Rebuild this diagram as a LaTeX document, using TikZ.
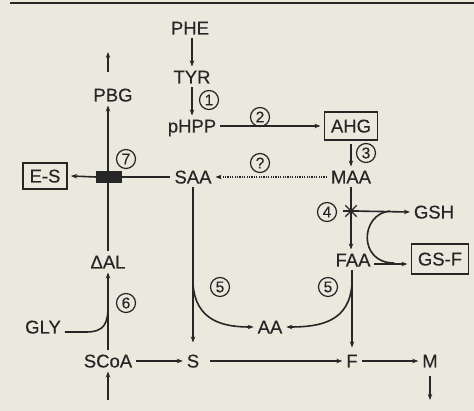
\documentclass[tikz,border=0pt]{standalone}
\usepackage{fontspec}
\setmainfont{Liberation Sans}[FakeBold=0.4]
\usetikzlibrary{arrows.meta}
\definecolor{bg}{RGB}{235,233,222}
\definecolor{ink}{RGB}{38,38,38}
\begin{document}
\begin{tikzpicture}[x=1pt,y=-1pt,
  lbl/.style={inner sep=0pt, outer sep=4pt, text height=13pt, text depth=0pt, font=\fontsize{18.5}{20}\selectfont, text=ink},
  boxed/.style={lbl, draw=ink, line width=1.4pt, inner xsep=6.5pt, minimum height=28pt},
  num/.style={circle, draw=ink, line width=1.2pt, minimum size=19pt, inner sep=0pt, font=\fontsize{15.5}{15.5}\selectfont, text=ink},
  ln/.style={line width=1.6pt, draw=ink},
  arr/.style={ln, -{Stealth[length=6pt,width=4.5pt]}},
  dotarr/.style={arr, line width=1.4pt, dash pattern=on 1.2pt off 1.2pt}]
\fill[bg] (0,0) rectangle (474,411);
\useasboundingbox (0,0) rectangle (474,411);
\draw[ink, line width=1.8pt] (10,3) -- (474,3);
% nodes
\node[lbl] (PHE) at (190,28) {PHE};
\node[lbl] (TYR) at (192,77) {TYR};
\node[lbl] (pHPP) at (192,126) {pHPP};
\node[boxed] (AHG) at (351,126) {AHG};
\node[lbl] (MAA) at (351,177) {MAA};
\node[lbl] (SAA) at (193,177) {SAA};
\node[lbl] (PBG) at (113,95) {PBG};
\node[boxed, minimum height=26pt] (ES) at (45,176) {E-S};
\node[fill=ink, minimum width=26pt, minimum height=12pt, inner sep=0pt] (blk) at (109,177) {};
\node[lbl] (DAL) at (108,262) {ΔAL};
\node[lbl] (GLY) at (43,327) {GLY};
\node[lbl] (SCoA) at (108,361) {SCoA};
\node[lbl] (S) at (193,361) {S};
\node[lbl] (AA) at (270,327) {AA};
\node[lbl] (F) at (352,361) {F};
\node[lbl] (M) at (430,361) {M};
\node[lbl] (FAA) at (353,260) {FAA};
\node[lbl] (GSH) at (434,212) {GSH};
\node[boxed, minimum height=30pt] (GSF) at (440,259) {GS-F};
\coordinate (star) at (351,211);
\coordinate (pbgtop) at (108,52);
\coordinate (scoabot) at (108,400);
\coordinate (mbot) at (430,400);
\coordinate (lfork) at (193,283);
\coordinate (rfork) at (352,283);
% circled numbers
\node[num] (n1) at (209,100) {1};
\node[num] (n2) at (260,117) {2};
\node[num] (n3) at (366,153) {3};
\node[num] (nq) at (260,163) {?};
\node[num] (n4) at (327,212) {4};
\node[num] (n5a) at (220,287) {5};
\node[num] (n5b) at (328,287) {5};
\node[num] (n6) at (126,303) {6};
\node[num] (n7) at (126,159) {7};
% connectors
\draw[arr] (TYR.north |- PHE.south) -- (TYR.north);
\draw[arr] (TYR.south) -- (pHPP.north);
\draw[arr] (pHPP.east) -- (AHG.west);
\draw[arr] (AHG.south) -- (AHG.south |- MAA.north);
\draw[dotarr] (MAA.west) -- (SAA.east);
\draw[ln] (SAA.west) -- (blk.east);
\draw[arr] (blk.west) -- (ES.east);
\draw[arr] (DAL.north) -- (DAL.north |- PBG.south);
\draw[arr, shorten <=12pt] (DAL.north |- PBG.north) -- (pbgtop);
\draw[arr] (SCoA.north) -- (DAL.south);
\draw[arr] (scoabot) -- (SCoA.south);
\draw[ln] ([yshift=-5pt]GLY.east) -- (86,332) .. controls (104,332) and (108,324) .. (108,306);
\draw[arr] (SCoA.east) -- (S.west);
\draw[arr, shorten >=8pt] (SAA.south) -- (SAA.south |- S.north);
\draw[arr] (lfork) .. controls (195,322) and (225,327) .. (AA.west);
\draw[arr] (rfork) .. controls (350,322) and (320,327) .. (AA.east);
\draw[arr, shorten <=7pt] (S.east) -- (F.west);
\draw[arr, shorten >=3pt] (F.north |- FAA.south) -- (F.north);
\draw[arr] (F.east) -- (M.west);
\draw[arr, shorten <=5pt] (M.south) -- (mbot);
\draw[arr] (MAA.south) -- (MAA.south |- FAA.north);
\draw[arr] (star) -- (GSH.west);
\draw[ln] (390,211) .. controls (360,214) and (358,263) .. (394,263);
\draw[arr] ([yshift=-4pt]FAA.east) -- ([yshift=-4pt]FAA.east -| GSF.west);
% star mark
\foreach \a in {0,45,90,135} \draw[ink, line width=1.2pt] (star) ++(\a:8) -- ++(\a+180:16);
\fill[ink] (star) circle (2.5pt);
\end{tikzpicture}
\end{document}
